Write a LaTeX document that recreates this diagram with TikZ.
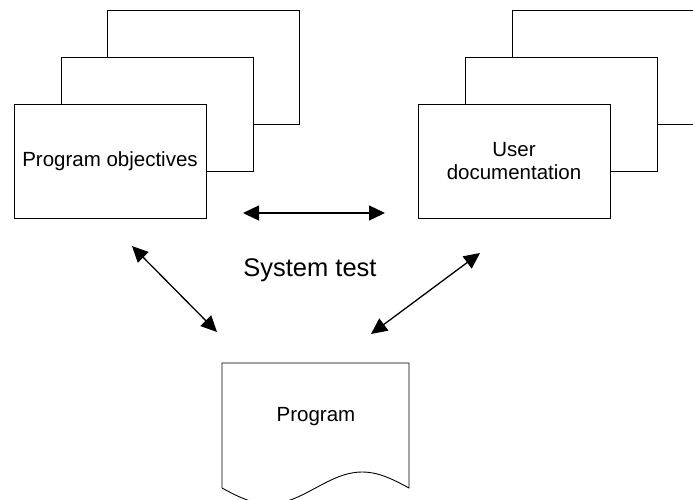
\documentclass[tikz,border=0pt]{standalone}
\usepackage{fontspec}
\setmainfont{Liberation Sans}
\usetikzlibrary{arrows.meta}

\tikzset{
  sheet/.style={draw=black, line width=0.9pt, fill=white, rectangle,
    minimum width=192pt, minimum height=114pt, inner sep=0pt, anchor=north west},
  label/.style={font=\fontsize{20.5}{23.5}\selectfont, align=center, inner sep=0pt},
  title/.style={font=\fontsize{25.5}{28}\selectfont, inner sep=0pt},
  link/.style={line width=1.3pt, {Triangle[length=16pt,width=15pt]}-{Triangle[length=16pt,width=15pt]}},
  docline/.style={draw=black, line width=0.9pt, line join=round}
}

\begin{document}
\begin{tikzpicture}[x=1pt, y=-1pt]
  \useasboundingbox (0,0) rectangle (693,499);
  \clip (0,0) rectangle (693,499);

  % stacked sheets: program objectives
  \node[sheet] (objC) at (107,10) {};
  \node[sheet] (objB) at (61,57) {};
  \node[sheet] (objA) at (14,104) {};
  \node[label] (objT) at (110,161) {Program objectives};

  % stacked sheets: user documentation
  \node[sheet] (docC) at (512,10) {};
  \node[sheet] (docB) at (465,57) {};
  \node[sheet] (docA) at (418,104) {};
  \node[label] (docT) at (514,161) {User\\documentation};

  % document symbol: program, with a wavy lower edge
  \coordinate (progNW) at (222,363);
  \coordinate (progNE) at (409,363);
  \draw[docline] (222,488) -- (progNW) -- (progNE) -- (409,488)
    sin (362.25,472) cos (315.5,488) sin (268.75,504) cos (222,488);
  \node[label] (progT) at (316,417) {Program};

  % centre caption
  \node[title] (sys) at (310,270) {System test};

  % arrow end points
  \coordinate (hL) at (243,213);
  \coordinate (hR) at (385,213);
  \coordinate (lU) at (132,246);
  \coordinate (lD) at (217,332);
  \coordinate (rU) at (480,253);
  \coordinate (rD) at (371,334);

  \draw[link] (hL) -- (hR);
  \draw[link] (lU) -- (lD);
  \draw[link] (rU) -- (rD);
\end{tikzpicture}
\end{document}
